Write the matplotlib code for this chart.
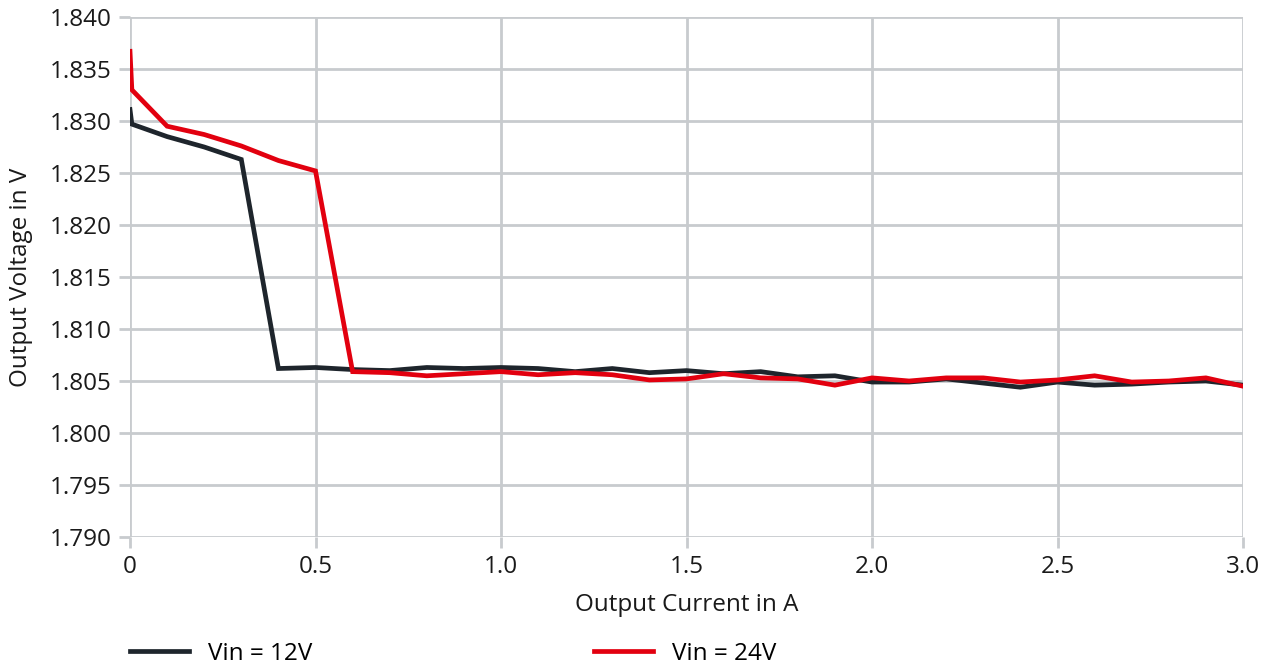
import numpy as np
import matplotlib.pyplot as plt

# Output current (A) and output voltage (V)
corriente = [0, 0.005, 0.1, 0.2, 0.3, 0.4, 0.5, 0.6, 0.7, 0.8, 0.9, 1.0,
             1.1, 1.2, 1.3, 1.4, 1.5, 1.6, 1.7, 1.8, 1.9, 2.0,
             2.1, 2.2, 2.3, 2.4, 2.5, 2.6, 2.7, 2.8, 2.9, 3.0]
v_12 = [1.8311, 1.8297, 1.8285, 1.8275, 1.8263, 1.8062, 1.8063, 1.8061, 1.8060, 1.8063, 1.8062, 1.8063,
        1.8062, 1.8059, 1.8062, 1.8058, 1.8060, 1.8057, 1.8059, 1.8054, 1.8055, 1.8049,
        1.8049, 1.8052, 1.8048, 1.8044, 1.8049, 1.8046, 1.8047, 1.8049, 1.8050, 1.8046]
v_24 = [1.8367, 1.8330, 1.8295, 1.8287, 1.8276, 1.8262, 1.8252, 1.8059, 1.8058, 1.8055, 1.8057, 1.8059,
        1.8056, 1.8058, 1.8056, 1.8051, 1.8052, 1.8057, 1.8053, 1.8052, 1.8046, 1.8053,
        1.8050, 1.8053, 1.8053, 1.8049, 1.8051, 1.8055, 1.8049, 1.8050, 1.8053, 1.8045]
etiquetas = ['Vin = 12V', 'Vin = 24V']

plt.rcParams['font.family'] = ['Open Sans', 'DejaVu Sans']
gris = '#c8cbce'
fs = 17.5

fig = plt.figure(figsize = (12.68, 6.68), dpi = 100)
ax = fig.add_axes([130/1268, 1 - 537/668, 1113/1268, 520/668])
ax.plot(corriente, v_12, color = '#1e252c', lw = 3.4, label = etiquetas[0], solid_joinstyle = 'miter')
ax.plot(corriente, v_24, color = '#e2000f', lw = 3.4, label = etiquetas[1], solid_joinstyle = 'miter')

ax.set_xlim(0, 3.0)
ax.set_ylim(1.790, 1.840)
ax.set_xticks(np.arange(0, 3.01, 0.5))
ax.set_xticklabels(['0', '0.5', '1.0', '1.5', '2.0', '2.5', '3.0'])
ax.set_yticks(np.arange(1.790, 1.8401, 0.005))
ax.set_yticklabels(['%.3f' % t for t in np.arange(1.790, 1.8401, 0.005)])
ax.grid(True, color = gris, lw = 2)
ax.set_axisbelow(True)
for s in ax.spines.values():
    s.set_visible(False)
ax.tick_params(colors = gris, labelcolor = '#1a1a1a', width = 2, length = 8, labelsize = fs, pad = 5)
ax.set_xlabel('Output Current in A', fontsize = fs, color = '#1a1a1a', labelpad = 10)
ax.set_ylabel('Output Voltage in V', fontsize = fs, color = '#1a1a1a', labelpad = 12)

fig.legend(loc = 'center left', bbox_to_anchor = (108/1268, 1 - 654/668), ncol = 2, frameon = False,
           fontsize = fs, handlelength = 2.43, handletextpad = 0.78, columnspacing = 11.6)
plt.savefig('out.png')
